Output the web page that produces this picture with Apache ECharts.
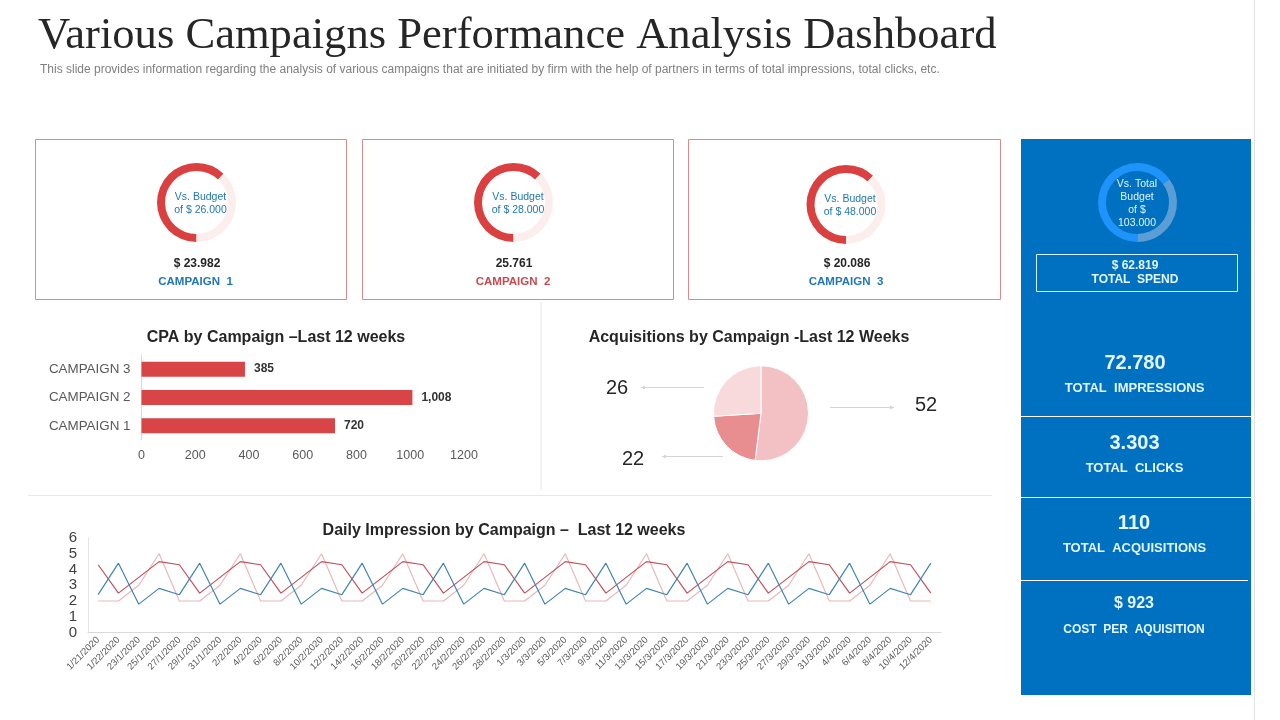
<!DOCTYPE html>
<html>
<head>
    <meta charset="utf-8">
    <title>Various Campaigns Performance Analysis Dashboard</title>
    <style>
        html, body { margin: 0; padding: 0; background: #fff; }
        #main { width: 1280px; height: 720px; }
    </style>
</head>
<body>
    <div id="main"></div>
    <script src="https://cdn.jsdelivr.net/npm/echarts@6/dist/echarts.min.js"></script>
    <script>
        // donut shares
        var campaign1Share = [62, 38];
        var campaign2Share = [62, 38];
        var campaign3Share = [62, 38];
        var totalShare = [65, 35];

        // CPA bars
        var cpaCategories = ['CAMPAIGN 1', 'CAMPAIGN 2', 'CAMPAIGN 3'];
        var cpaValues = [720, 1008, 385];

        // acquisitions pie
        var acquisitionValues = [52, 22, 26];

        // daily impressions
        var dayLabels = ['1/21/2020', '1/22/2020', '23/1/2020', '25/1/2020', '27/1/2020', '29/1/2020', '31/1/2020',
            '2/2/2020', '4/2/2020', '6/2/2020', '8/2/2020', '10/2/2020', '12/2/2020', '14/2/2020', '16/2/2020',
            '18/2/2020', '20/2/2020', '22/2/2020', '24/2/2020', '26/2/2020', '28/2/2020', '1/3/2020', '3/3/2020',
            '5/3/2020', '7/3/2020', '9/3/2020', '11/3/2020', '13/3/2020', '15/3/2020', '17/3/2020', '19/3/2020',
            '21/3/2020', '23/3/2020', '25/3/2020', '27/3/2020', '29/3/2020', '31/3/2020', '4/4/2020', '6/4/2020',
            '8/4/2020', '10/4/2020', '12/4/2020'];
        var pinkValues = [2, 2, 3, 5, 2, 2, 3, 5, 2, 2, 3, 5, 2, 2, 3, 5, 2, 2, 3, 5, 2, 2, 3, 5, 2, 2, 3, 5, 2, 2, 3, 5, 2, 2, 3, 5, 2, 2, 3, 5, 2, 2];
        var redValues = [4.3, 2.5, 3.5, 4.5, 4.3, 2.5, 3.5, 4.5, 4.3, 2.5, 3.5, 4.5, 4.3, 2.5, 3.5, 4.5, 4.3, 2.5, 3.5, 4.5, 4.3, 2.5, 3.5, 4.5, 4.3, 2.5, 3.5, 4.5, 4.3, 2.5, 3.5, 4.5, 4.3, 2.5, 3.5, 4.5, 4.3, 2.5, 3.5, 4.5, 4.3, 2.5];
        var blueValues = [2.4, 4.4, 1.8, 2.8, 2.4, 4.4, 1.8, 2.8, 2.4, 4.4, 1.8, 2.8, 2.4, 4.4, 1.8, 2.8, 2.4, 4.4, 1.8, 2.8, 2.4, 4.4, 1.8, 2.8, 2.4, 4.4, 1.8, 2.8, 2.4, 4.4, 1.8, 2.8, 2.4, 4.4, 1.8, 2.8, 2.4, 4.4, 1.8, 2.8, 2.4, 4.4];

        var SANS = '"Liberation Sans", Arial, sans-serif';
        var chart = echarts.init(document.getElementById('main'));

        function txt(x, y, text, size, color, bold, align) {
            return {
                type: 'text', x: x, y: y + 0.7, silent: true,
                style: {
                    x: 0, y: 0, text: text, fill: color,
                    font: (bold ? 'bold ' : '') + size + 'px ' + SANS,
                    textAlign: align || 'center', textVerticalAlign: 'middle'
                }
            };
        }
        function box(x, y, w, h, stroke, fill) {
            return { type: 'rect', silent: true, shape: { x: x, y: y, width: w, height: h },
                style: { fill: fill || 'none', stroke: stroke || null, lineWidth: 1 } };
        }
        function line(x1, y1, x2, y2, color, w) {
            return { type: 'line', silent: true, shape: { x1: x1, y1: y1, x2: x2, y2: y2 },
                style: { stroke: color, lineWidth: w || 1 } };
        }
        // thin grey arrow next to the pie
        function arrow(x1, y, x2) {
            var d = x2 > x1 ? -4 : 4;
            return [line(x1, y, x2, y, '#d4d4d4'), {
                type: 'polygon', silent: true,
                shape: { points: [[x2, y], [x2 + d, y - 2], [x2 + d, y + 2]] },
                style: { fill: '#d4d4d4' }
            }];
        }
        function donut(cx, cy, share, colors) {
            return {
                type: 'pie', silent: true, center: [cx, cy], radius: [31.5, 39.5], startAngle: 270,
                label: { show: false }, labelLine: { show: false },
                data: [
                    { value: share[0], itemStyle: { color: colors[0] } },
                    { value: share[1], itemStyle: { color: colors[1] } }
                ]
            };
        }

        var RED_RING = ['#d9403f', '#fdeeee'];
        var BLUE_TEXT = '#2277b5';
        var PANEL_TEXT = '#e3f5ff';

        var graphics = [
            // page furniture
            line(1254.5, 0, 1254.5, 720, '#e2e2e2'),
            line(541, 302, 541, 490, '#e4e4e4'),
            line(28, 495.5, 992, 495.5, '#e8e8e8'),

            // heading
            {
                type: 'text', x: 38, y: 36, silent: true,
                style: { x: 0, y: 0, text: 'Various Campaigns Performance Analysis Dashboard', fill: '#262626',
                    font: '44.6px "Liberation Serif", serif', textAlign: 'left', textVerticalAlign: 'middle' }
            },
            txt(40, 68.8, 'This slide provides information regarding the analysis of various campaigns that are initiated by firm with the help of partners in terms of total impressions, total clicks, etc.', 12, '#7f7f7f', false, 'left'),

            // campaign cards
            box(35.5, 139.5, 311, 160, '#d98c8c'),
            box(362.5, 139.5, 311, 160, '#d98c8c'),
            box(688.5, 139.5, 312, 160, '#d98c8c'),
            txt(200.5, 196, 'Vs. Budget', 10.5, BLUE_TEXT),
            txt(200.5, 209, 'of $ 26.000', 10.5, BLUE_TEXT),
            txt(197, 262.5, '$ 23.982', 12, '#262626', true),
            txt(195.5, 281, 'CAMPAIGN  1', 11.5, '#1f76b8', true),
            txt(518, 196, 'Vs. Budget', 10.5, BLUE_TEXT),
            txt(518, 209, 'of $ 28.000', 10.5, BLUE_TEXT),
            txt(514, 262.5, '25.761', 12, '#262626', true),
            txt(513, 281, 'CAMPAIGN  2', 11.5, '#c84b50', true),
            txt(850, 198, 'Vs. Budget', 10.5, BLUE_TEXT),
            txt(850, 211, 'of $ 48.000', 10.5, BLUE_TEXT),
            txt(847, 262.5, '$ 20.086', 12, '#262626', true),
            txt(846, 281, 'CAMPAIGN  3', 11.5, '#1f76b8', true),

            // chart headings
            txt(276, 337, 'CPA by Campaign –Last 12 weeks', 16, '#262626', true),
            txt(749, 337, 'Acquisitions by Campaign -Last 12 Weeks', 16, '#262626', true),
            txt(504, 530, 'Daily Impression by Campaign –  Last 12 weeks', 16, '#262626', true),

            // blue side panel
            box(1021, 139, 230, 556, null, '#0070c0'),
            txt(1137, 183, 'Vs. Total', 10.5, PANEL_TEXT),
            txt(1137, 196, 'Budget', 10.5, PANEL_TEXT),
            txt(1137, 209, 'of $', 10.5, PANEL_TEXT),
            txt(1137, 222, '103.000', 10.5, PANEL_TEXT),
            box(1036.5, 254.5, 201, 37, '#d5f3ff'),
            txt(1135, 265, '$ 62.819', 12, PANEL_TEXT, true),
            txt(1135, 279, 'TOTAL  SPEND', 12, PANEL_TEXT, true),
            line(1021, 416.5, 1251, 416.5, '#ffffff'),
            line(1021, 497.5, 1251, 497.5, '#ffffff'),
            line(1021, 580.5, 1248, 580.5, '#ffffff'),
            txt(1135, 363, '72.780', 20, PANEL_TEXT, true),
            txt(1134.5, 388, 'TOTAL  IMPRESSIONS', 13, PANEL_TEXT, true),
            txt(1134.5, 443, '3.303', 20, PANEL_TEXT, true),
            txt(1134.5, 468, 'TOTAL  CLICKS', 13, PANEL_TEXT, true),
            txt(1134, 523, '110', 20, PANEL_TEXT, true),
            txt(1134.5, 548, 'TOTAL  ACQUISITIONS', 13, PANEL_TEXT, true),
            txt(1134, 603, '$ 923', 16, PANEL_TEXT, true),
            txt(1134, 629, 'COST  PER  AQUISITION', 12, PANEL_TEXT, true)
        ].concat(arrow(704, 387.5, 641), arrow(830, 407.5, 894), arrow(723, 456.5, 662));

        var pieLabelAt = [[926, 405], [633, 459], [617, 388]];

        var option = {
            animation: false,
            backgroundColor: '#fff',
            textStyle: { fontFamily: SANS },
            graphic: { elements: graphics },
            grid: [
                { left: 141.5, width: 322.5, top: 355, height: 85 },
                { left: 88, width: 853, top: 538, height: 94.5 }
            ],
            xAxis: [
                {
                    gridIndex: 0, type: 'value', min: 0, max: 1200, interval: 200,
                    splitLine: { show: false }, axisLine: { show: false }, axisTick: { show: false },
                    axisLabel: { color: '#595959', fontSize: 12.5, margin: 9, formatter: function (v) { return String(v); } }
                },
                {
                    gridIndex: 1, type: 'category', data: dayLabels,
                    axisLine: { lineStyle: { color: '#d9d9d9' } }, axisTick: { show: false },
                    axisLabel: { color: '#595959', fontSize: 9.5, rotate: 45, interval: 0, margin: 6 }
                }
            ],
            yAxis: [
                {
                    gridIndex: 0, type: 'category', data: cpaCategories,
                    axisLine: { lineStyle: { color: '#d9d9d9' } }, axisTick: { show: false },
                    axisLabel: { color: '#595959', fontSize: 13.4, margin: 11 }
                },
                {
                    gridIndex: 1, type: 'value', min: 0, max: 6, interval: 1,
                    splitLine: { show: false }, axisTick: { show: false },
                    axisLine: { show: true, lineStyle: { color: '#e4e4e4' } },
                    axisLabel: { color: '#404040', fontSize: 15, margin: 11 }
                }
            ],
            series: [
                donut(196.5, 202.5, campaign1Share, RED_RING),
                donut(513.5, 202.5, campaign2Share, RED_RING),
                donut(846, 204.5, campaign3Share, RED_RING),
                donut(1137.5, 202.5, totalShare, ['#1e93fa', '#5b9ed6']),
                {
                    type: 'bar', xAxisIndex: 0, yAxisIndex: 0, data: cpaValues, barWidth: 15,
                    itemStyle: { color: '#d94546' },
                    label: { show: true, position: 'right', distance: 9, color: '#333', fontSize: 12, fontWeight: 'bold',
                        formatter: function (p) { return p.value.toLocaleString('en-US'); } }
                },
                {
                    type: 'pie', silent: true, center: [761, 413.3], radius: [0, 47.5], startAngle: 90,
                    itemStyle: { borderColor: '#fff', borderWidth: 1 },
                    label: { show: true, formatter: '{c}', color: '#262626', fontSize: 20 },
                    labelLine: { show: false },
                    labelLayout: function (p) {
                        return { x: pieLabelAt[p.dataIndex][0], y: pieLabelAt[p.dataIndex][1], align: 'center', verticalAlign: 'middle' };
                    },
                    data: [
                        { value: acquisitionValues[0], itemStyle: { color: '#f3c1c3' } },
                        { value: acquisitionValues[1], itemStyle: { color: '#e88e91' } },
                        { value: acquisitionValues[2], itemStyle: { color: '#f8dadc' } }
                    ]
                },
                { type: 'line', xAxisIndex: 1, yAxisIndex: 1, data: pinkValues, showSymbol: false, lineStyle: { color: '#e8b8ba', width: 1.2 } },
                { type: 'line', xAxisIndex: 1, yAxisIndex: 1, data: redValues, showSymbol: false, lineStyle: { color: '#c2505c', width: 1.2 } },
                { type: 'line', xAxisIndex: 1, yAxisIndex: 1, data: blueValues, showSymbol: false, lineStyle: { color: '#3f85b4', width: 1.2 } }
            ]
        };
        chart.setOption(option);
    </script>
</body>
</html>
